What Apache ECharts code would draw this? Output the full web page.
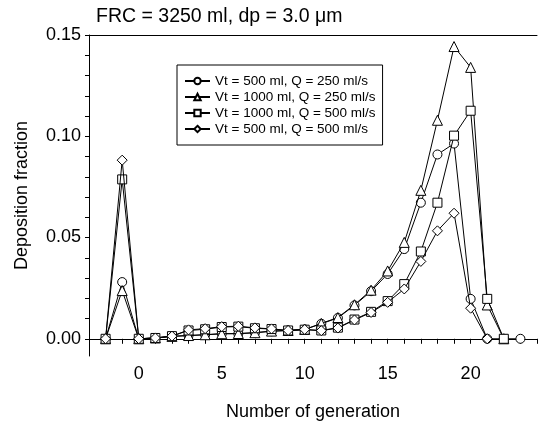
<!DOCTYPE html>
<html>
<head>
<meta charset="utf-8">
<script src="https://cdn.jsdelivr.net/npm/echarts@6/dist/echarts.min.js"></script>
<style>html,body{margin:0;padding:0;background:#fff;}#c{width:540px;height:428px;}</style>
</head>
<body>
<div id="c"></div>
<script>
const generations = [-2,-1,0,1,2,3,4,5,6,7,8,9,10,11,12,13,14,15,16,17,18,19,20,21,22,23];
const seriesNames = ['Vt = 500 ml, Q = 250 ml/s','Vt = 1000 ml, Q = 250 ml/s','Vt = 1000 ml, Q = 500 ml/s','Vt = 500 ml, Q = 500 ml/s'];
const vt500q250 = [0,0.028,0,0.0004,0.0012,0.0016,0.002,0.0025,0.0025,0.003,0.0037,0.0041,0.0046,0.0074,0.0103,0.0165,0.0235,0.032,0.0443,0.0672,0.091,0.0964,0.0197,0,0,0];
const vt1000q250 = [0,0.0238,0,0.0004,0.0012,0.0016,0.002,0.0025,0.0026,0.003,0.0038,0.0041,0.0046,0.0076,0.0105,0.0168,0.024,0.0335,0.0476,0.0733,0.1079,0.1443,0.134,0.0167,0];
const vt1000q500 = [0,0.0787,0,0.0004,0.0013,0.0041,0.0047,0.0058,0.006,0.0052,0.0048,0.0041,0.0045,0.0041,0.0055,0.0095,0.0133,0.0186,0.027,0.0431,0.0672,0.1003,0.1126,0.0197,0];
const vt500q500 = [0,0.0882,0,0.0004,0.0013,0.0044,0.005,0.006,0.0062,0.0054,0.0049,0.0041,0.0046,0.004,0.0053,0.0093,0.013,0.018,0.0246,0.0382,0.0533,0.062,0.0151,0];
const xTickLabels = [0,5,10,15,20];
const yTickLabels = [0,0.05,0.10,0.15];
const yMinorTicks = [0,0.01,0.02,0.03,0.04,0.05,0.06,0.07,0.08,0.09,0.10,0.11,0.12,0.13,0.14,0.15];

const FONT = '"Liberation Sans", Arial, Helvetica, sans-serif';
const symbols = ['circle','triangle','rect','diamond'];
const sizes = [9,10,9,10];
const allData = [vt500q250, vt1000q250, vt1000q500, vt500q500];

const chart = echarts.init(document.getElementById('c'));
chart.setOption({
  animation: false,
  backgroundColor: '#fff',
  textStyle: {fontFamily: FONT, color: '#000'},
  title: {
    text: 'FRC = 3250 ml, dp = 3.0 \u03bcm',
    left: 96, top: 7, padding: 0,
    textStyle: {fontFamily: FONT, fontSize: 19.5, fontWeight: 'normal', color: '#000'}
  },
  legend: {
    orient: 'vertical',
    left: 177, top: 65,
    padding: [9, 7, 9, 7],
    itemGap: 2,
    itemWidth: 25, itemHeight: 8,
    borderColor: '#000', borderWidth: 1,
    textStyle: {fontFamily: FONT, fontSize: 13.5, color: '#000'},
    data: seriesNames
  },
  grid: {left: 89, top: 35, right: 1, bottom: 72, containLabel: false},
  xAxis: [{
    type: 'value', min: -3, max: 24, interval: 1,
    name: 'Number of generation', nameLocation: 'middle', nameGap: 47,
    nameTextStyle: {fontFamily: FONT, fontSize: 18, color: '#000'},
    axisLine: {lineStyle: {color: '#000', width: 1}},
    axisTick: {show: true, inside: false, length: 5, lineStyle: {color: '#000'}},
    axisLabel: {
      interval: 0, margin: 9, fontFamily: FONT, fontSize: 18, color: '#000',
      formatter: v => xTickLabels.indexOf(v) >= 0 ? String(v) : ''
    },
    splitLine: {show: false}
  }, {
    type: 'value', min: -3, max: 24, position: 'top',
    axisLine: {show: true, onZero: false, lineStyle: {color: '#000', width: 1}},
    axisTick: {show: false}, axisLabel: {show: false}, splitLine: {show: false}
  }],
  yAxis: {
    type: 'value', min: -0.0085, max: 0.15,
    name: 'Deposition fraction', nameLocation: 'middle', nameGap: 58,
    nameTextStyle: {fontFamily: FONT, fontSize: 18, color: '#000'},
    axisLine: {show: true, onZero: false, lineStyle: {color: '#000', width: 1}},
    axisTick: {show: true, inside: false, length: 4, customValues: yMinorTicks, lineStyle: {color: '#000'}},
    axisLabel: {
      margin: 8, fontFamily: FONT, fontSize: 18, color: '#000',
      customValues: yTickLabels,
      formatter: v => v.toFixed(2)
    },
    splitLine: {show: false}
  },
  series: allData.map((vals, i) => ({
    name: seriesNames[i],
    type: 'line',
    data: vals.map((v, j) => [generations[j], v]),
    symbol: symbols[i],
    symbolSize: sizes[i],
    showAllSymbol: true,
    lineStyle: {color: '#000', width: 1},
    itemStyle: {color: '#fff', borderColor: '#000', borderWidth: 1},
    z: 2 + i
  }))
});
</script>
</body>
</html>
